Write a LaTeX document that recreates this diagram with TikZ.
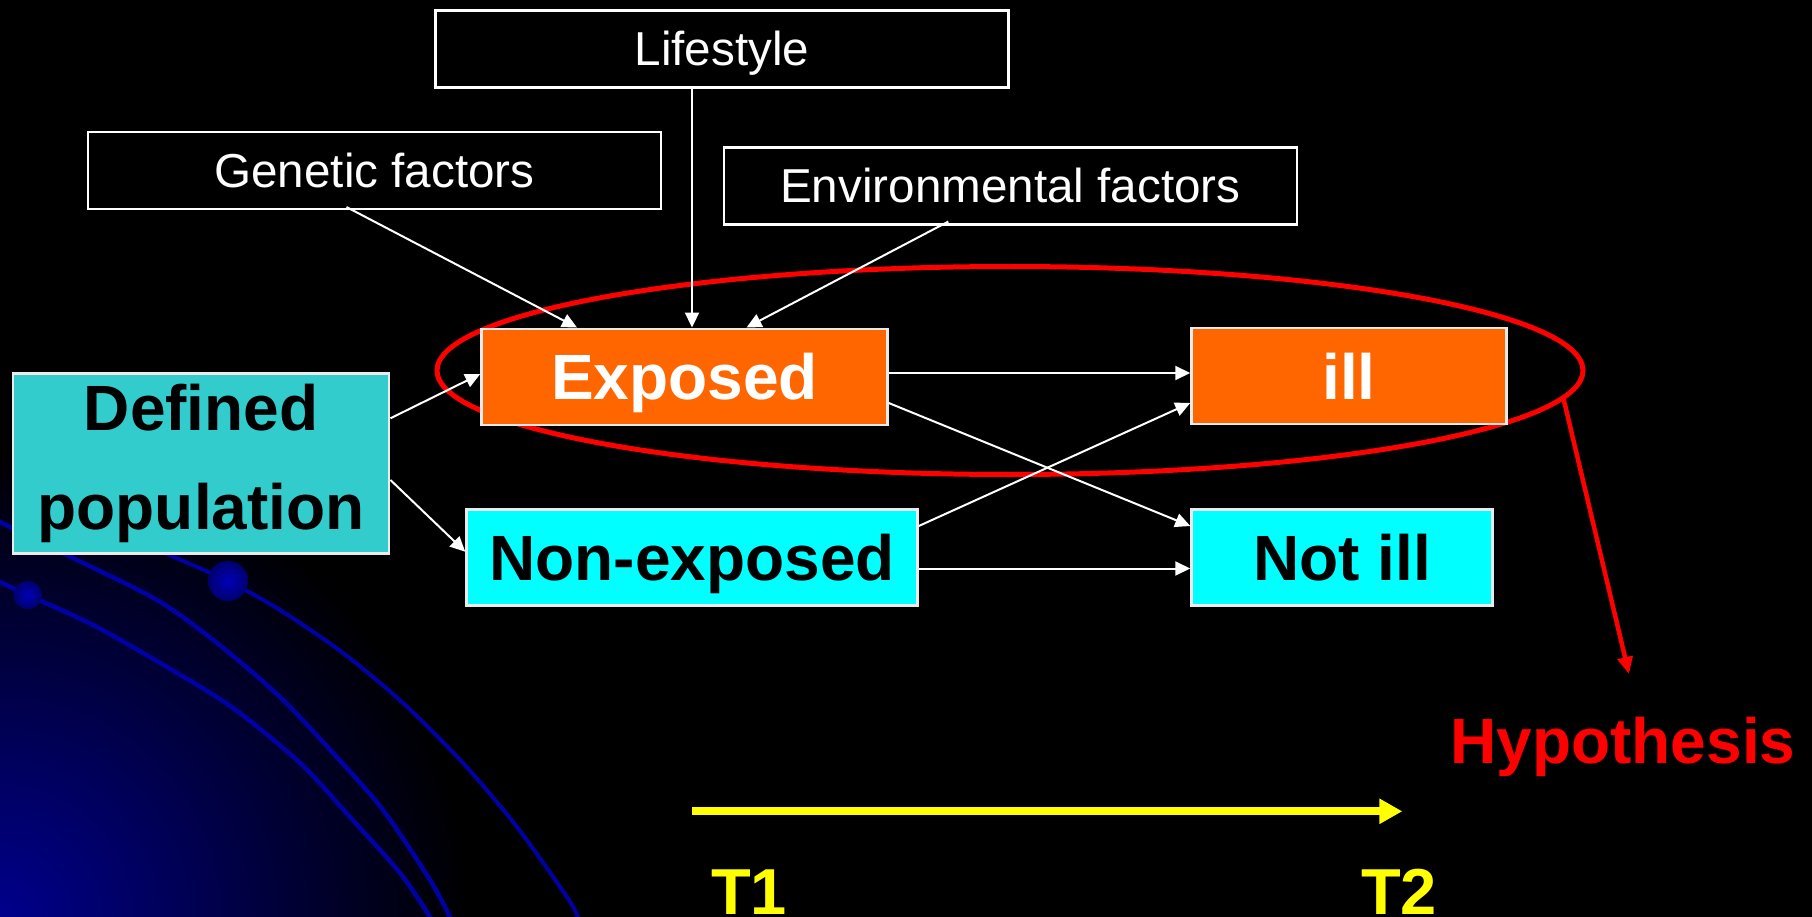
\documentclass[tikz,border=0pt]{standalone}
\usepackage{fontspec}
\setmainfont{Liberation Sans}
\usetikzlibrary{arrows.meta,shapes.geometric}
\definecolor{orng}{HTML}{FF6600}
\definecolor{tealbox}{HTML}{33CCCC}
\definecolor{cyanbox}{HTML}{00FFFF}
\definecolor{navyline}{RGB}{0,0,165}
\definecolor{navyglow}{RGB}{0,0,140}
\definecolor{navydot}{RGB}{0,0,185}
\definecolor{navydark}{RGB}{0,0,110}
\definecolor{yel}{HTML}{FFFF00}
\definecolor{redd}{HTML}{FF0000}
\begin{document}
\begin{tikzpicture}[x=1pt,y=-1pt,
  factorbox/.style={draw=white, line width=2.5pt, fill=black, text=white, inner sep=0pt,
    font=\fontsize{47.6}{57}\selectfont, text height=34pt, text depth=0pt,
    minimum width=573pt, minimum height=77pt},
  boxframe/.style={draw=white!92!black, line width=2.5pt, inner sep=0pt},
  bigbox/.style={boxframe, font=\fontsize{64}{77}\selectfont\bfseries, text height=46pt, text depth=0pt},
  conn/.style={draw=white, line width=2pt, -{Triangle[length=15pt,width=14pt]}},
  bgcurve/.style={draw=navyline, line width=4.5pt},
  bigtext/.style={font=\fontsize{64}{77}\selectfont\bfseries, inner sep=0pt, text height=46pt, text depth=0pt}
]
% background
\fill[black] (0,0) rectangle (1812,917);
\useasboundingbox (0,0) rectangle (1812,917);
\begin{scope}
  \clip (0,0) rectangle (1812,917);
  \shade[inner color=navyglow, outer color=black] (0,917) circle (470);
  % decorative curves
  \draw[bgcurve] plot[smooth] coordinates {(0,582) (27.7,595) (93,625) (167,667) (233,708) (300,763) (350,817) (400,873) (430,917) (436,930)};
  \draw[bgcurve] plot[smooth] coordinates {(-5,519) (0,522) (71,557) (157,600) (217,643) (280,697) (333,753) (383,810) (430,880) (450,917) (456,930)};
  \draw[bgcurve, line width=4pt] plot[smooth] coordinates {(150,546) (174,557) (228,581) (280,610) (343,653) (403,703) (463,763) (517,827) (567,897) (578,917) (585,930)};
  \shade[inner color=navydot, outer color=navydark] (27.7,595) circle (14);
  \shade[inner color=navydot, outer color=navydark] (228,581) circle (20);
\end{scope}

% red ellipse (behind boxes)
\node[draw=redd, line width=5pt, ellipse, minimum width=1146pt, minimum height=208pt, inner sep=0pt] (ell) at (1010,370.5) {};

% factor boxes
\node[factorbox] (life) at (722,49) {Lifestyle};
\node[factorbox] (gen) at (374.5,170.3) {Genetic factors};
\node[factorbox] (env) at (1010.3,185.8) {Environmental factors};

% main boxes
\node[boxframe, fill=tealbox, text=black, align=center, font=\fontsize{64}{99}\selectfont\bfseries,
      minimum width=376pt, minimum height=180pt] (pop) at (201.2,463.7) {Defined\\population};
\node[bigbox, fill=orng, text=white, minimum width=406pt, minimum height=96pt] (exp) at (684.5,376.8) {Exposed};
\node[bigbox, fill=cyanbox, text=black, minimum width=451pt, minimum height=96pt] (nexp) at (692,557.5) {Non-exposed};
\node[bigbox, fill=orng, text=white, minimum width=315pt, minimum height=96pt] (ill) at (1349,376) {ill};
\node[bigbox, fill=cyanbox, text=black, minimum width=301pt, minimum height=96pt] (nill) at (1342,557.5) {Not ill};

% connectors from factors
\draw[conn] ([xshift=-28pt,yshift=3pt]gen.south) -- ([xshift=-107.5pt]exp.north);
\draw[conn] ([xshift=-30pt,yshift=3pt]life.south) -- ([xshift=7.5pt]exp.north);
\draw[conn] ([xshift=-62pt,yshift=4pt]env.south) -- ([xshift=62pt]exp.north);

% population split
\draw[conn] ([yshift=45.4pt]pop.east) -- ([yshift=2.8pt]exp.west);
\draw[conn] ([yshift=-16.3pt]pop.east) -- ([yshift=5.8pt]nexp.west);

% outcomes
\draw[conn] ([yshift=3.8pt]exp.east) -- ([yshift=3pt]ill.west);
\draw[conn] ([yshift=-26.2pt]exp.east) -- ([yshift=31.5pt]nill.west);
\draw[conn] ([yshift=31.5pt]nexp.east) -- ([yshift=-27pt]ill.west);
\draw[conn] ([yshift=-11pt]nexp.east) -- ([yshift=-11pt]nill.west);

% hypothesis
\node[bigtext, text=redd] (hyp) at (1623,740) {Hypothesis};
\coordinate (hyptip) at (1629,674);
\draw[redd, line width=4.5pt, -{Triangle[length=17pt,width=15pt]}] (ell.-3.6) -- (hyptip);

% time axis
\coordinate (tstart) at (692,811.3);
\coordinate (tend) at (1402.3,811.3);
\draw[yel, line width=8pt, -{Triangle[length=23pt,width=24pt]}] (tstart) -- (tend);
\node[bigtext, font=\fontsize{65}{78}\selectfont\bfseries, text height=46.5pt, text=yel] (t1) at (749,891) {T1};
\node[bigtext, font=\fontsize{65}{78}\selectfont\bfseries, text height=46.5pt, text=yel] (t2) at (1399,891) {T2};
\end{tikzpicture}
\end{document}
